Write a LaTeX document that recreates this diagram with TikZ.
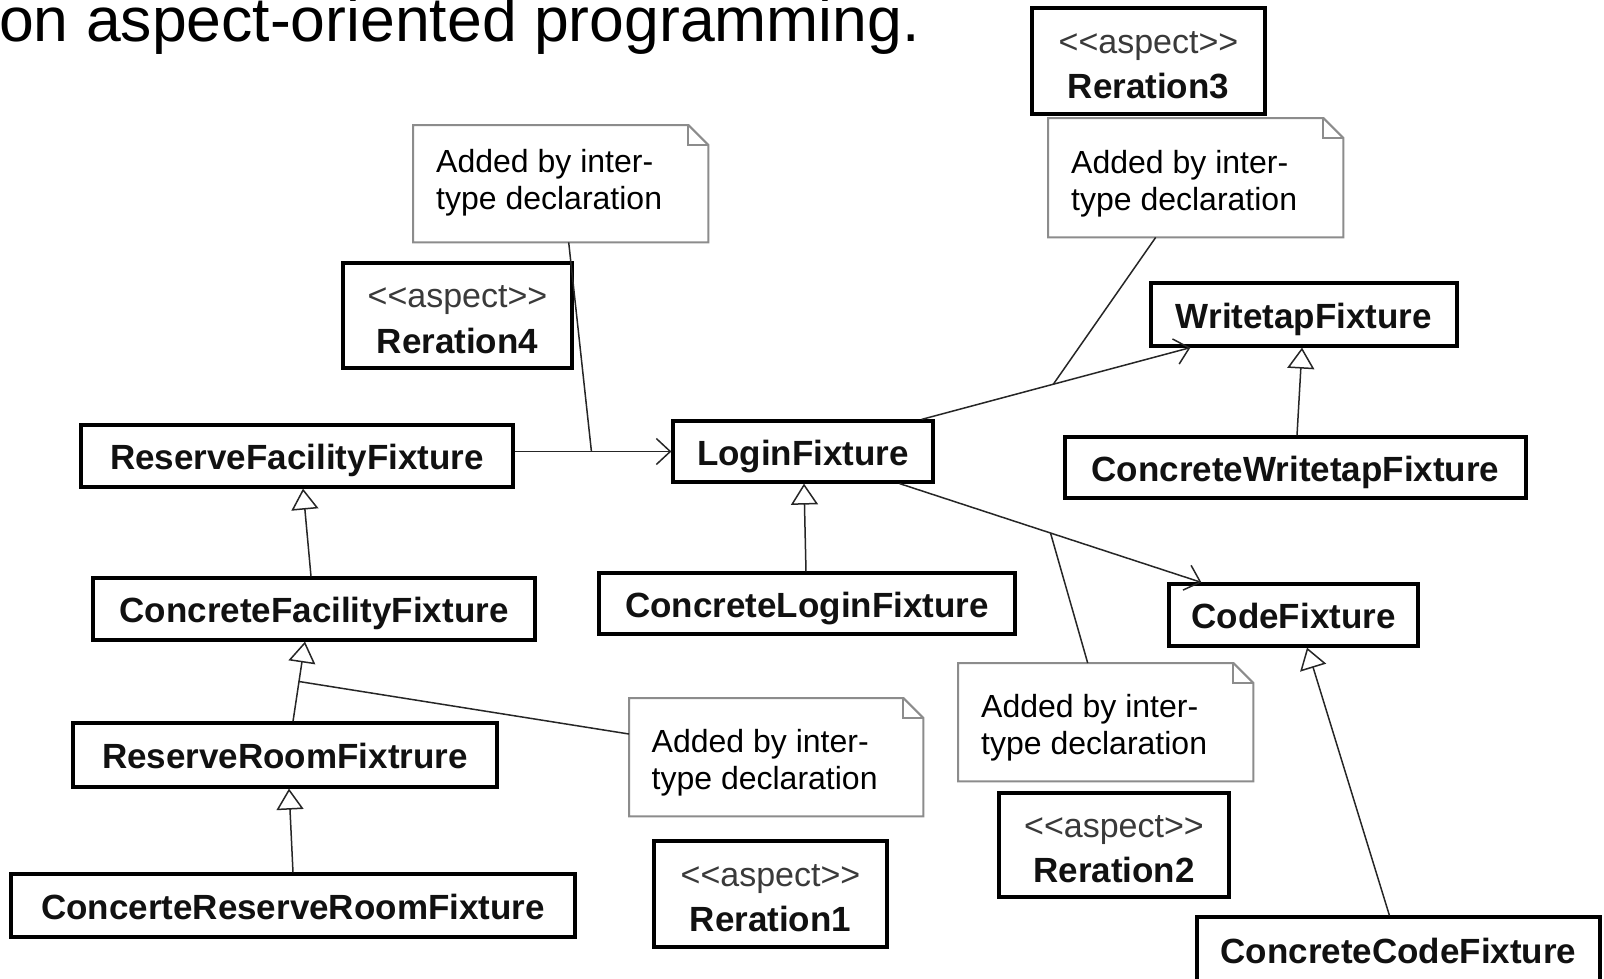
\documentclass[tikz,border=0pt]{standalone}
\usepackage{fontspec}
\setmainfont{Liberation Sans}
\usetikzlibrary{arrows.meta,calc}

\definecolor{stereo}{HTML}{3A3A3A}
\definecolor{notegray}{HTML}{8C8C8C}
\definecolor{ink}{HTML}{111111}

% two-line comment text of a note, lowered by #1 without changing its box
\newcommand{\notelines}[1]{\raisebox{#1}[\height][\depth]{\makebox[249pt][l]{\begin{tabular}{@{}l@{}}Added by inter-\\type declaration\end{tabular}}}}
% stereotype plus bold aspect name
\newcommand{\aspectlines}[1]{\raisebox{-5.6pt}[\height][\depth]{\begin{tabular}{@{}c@{}}{\color{stereo}\fontsize{34pt}{47pt}\selectfont <\kern0pt<aspect>\kern0pt>}\\[-1.5pt]\bfseries #1\end{tabular}}}
% folded-corner outline around a note node
\newcommand{\notefold}[1]{%
  \draw[noteline] (#1.north west) -- ([xshift=-20pt]#1.north east) -- ([yshift=-20pt]#1.north east) -- (#1.south east) -- (#1.south west) -- cycle;
  \draw[noteline] ([xshift=-20pt]#1.north east) |- ([yshift=-20pt]#1.north east);}

\begin{document}
\begin{tikzpicture}[x=1pt,y=-1pt,
  cls/.style={draw=black, line width=3.2pt, fill=white, inner sep=0pt, text=ink,
    font=\fontsize{35pt}{42pt}\selectfont\bfseries, text height=27pt, text depth=0pt},
  aspectbox/.style={draw=black, line width=3.2pt, fill=white, inner sep=0pt, text=ink,
    font=\fontsize{35pt}{47pt}\selectfont},
  notebox/.style={inner sep=0pt, text=black, font=\fontsize{32pt}{37pt}\selectfont},
  noteline/.style={draw=notegray, line width=2pt, line join=miter},
  conn/.style={draw=black!85, line width=1.5pt},
  gen/.style={conn, -{Triangle[length=21pt, width=27pt, fill=white]}},
  assoc/.style={conn, -{Straight Barb[length=14pt, width=26pt]}}]

\useasboundingbox (0,0) rectangle (1604,978);
\fill[white] (0,0) rectangle (1604,978);
\clip (0,0) rectangle (1604,978);

% heading line
\node[font=\fontsize{62.5pt}{70pt}\selectfont, anchor=base west, inner sep=0pt] (title) at (-1,41) {on aspect-oriented programming.};

% classes
\node[cls, minimum width=432pt, minimum height=62pt] (rff)    at (297,456)    {ReserveFacilityFixture};
\node[cls, minimum width=260pt, minimum height=61pt] (login)  at (803,451.5)  {LoginFixture};
\node[cls, minimum width=306pt, minimum height=63pt] (write)  at (1304,314.5) {WritetapFixture};
\node[cls, minimum width=461pt, minimum height=61pt] (cwrite) at (1295.5,467.5) {ConcreteWritetapFixture};
\node[cls, minimum width=416pt, minimum height=61pt] (clogin) at (807,603.5)  {ConcreteLoginFixture};
\node[cls, minimum width=249pt, minimum height=62pt] (code)   at (1293.5,615) {CodeFixture};
\node[cls, minimum width=403pt, minimum height=66pt] (ccode)  at (1398.5,950) {ConcreteCodeFixture};
\node[cls, minimum width=442pt, minimum height=62pt] (cff)    at (314,609)    {ConcreteFacilityFixture};
\node[cls, minimum width=424pt, minimum height=64pt] (rrf)    at (285,755)    {ReserveRoomFixtrure};
\node[cls, minimum width=564pt, minimum height=63pt] (crrf)   at (293,905.5)  {ConcerteReserveRoomFixture};

% aspects
\node[aspectbox, minimum width=233pt, minimum height=106pt] (r3) at (1148.5,61)  {\aspectlines{Reration3}};
\node[aspectbox, minimum width=229pt, minimum height=105pt] (r4) at (457.5,315.5) {\aspectlines{Reration4}};
\node[aspectbox, minimum width=230pt, minimum height=104pt] (r2) at (1114,845)   {\aspectlines{Reration2}};
\node[aspectbox, minimum width=233pt, minimum height=106pt] (r1) at (770.5,894)  {\aspectlines{Reration1}};

% notes
\node[notebox, minimum width=295pt, minimum height=117pt, anchor=north west] (nA) at (413,125)  {\notelines{0pt}};
\node[notebox, minimum width=295pt, minimum height=119pt, anchor=north west] (nC) at (1048,118) {\notelines{-6.5pt}};
\node[notebox, minimum width=295pt, minimum height=118pt, anchor=north west] (nB) at (958,663)  {\notelines{-6.5pt}};
\node[notebox, minimum width=294pt, minimum height=118pt, anchor=north west] (nD) at (629,698)  {\notelines{-6pt}};
\notefold{nA}
\notefold{nC}
\notefold{nB}
\notefold{nD}

% associations
\draw[assoc] (rff.east |- login.west) -- (login.west);
\coordinate (jA) at ($(rff.east |- login.west)!0.49!(login.west)$);
\draw[conn] ([xshift=8pt]nA.south) -- (jA);

\draw[assoc] ([xshift=-13pt]login.north east) -- ([xshift=41pt]write.south west);
\coordinate (jC) at ($([xshift=-13pt]login.north east)!0.49!([xshift=41pt]write.south west)$);
\draw[conn] ([xshift=-40pt]nC.south) -- (jC);

\draw[assoc] ([xshift=-35pt]login.south east) -- ([xshift=34pt]code.north west);
\coordinate (jB) at ($([xshift=-35pt]login.south east)!0.5!([xshift=34pt]code.north west)$);
\draw[conn] ([xshift=-18pt]nB.north) -- (jB);

% generalizations
\draw[gen] ([xshift=-1pt]clogin.north) -- ([xshift=1pt]login.south);
\draw[gen] ([xshift=1.5pt]cwrite.north) -- ([xshift=-2pt]write.south);
\draw[gen] ([xshift=194pt]ccode.north west) -- ([xshift=13.5pt]code.south);
\draw[gen] ([xshift=-3pt]cff.north) -- ([xshift=6pt]rff.south);
\draw[gen] ([xshift=8pt]rrf.north) -- ([xshift=-9pt]cff.south);
\coordinate (jD) at ($([xshift=8pt]rrf.north)!0.5!([xshift=-9pt]cff.south)$);
\draw[conn] ([yshift=-36pt]nD.north west) -- (jD);
\draw[gen] (crrf.north) -- ([xshift=4pt]rrf.south);

\end{tikzpicture}
\end{document}
